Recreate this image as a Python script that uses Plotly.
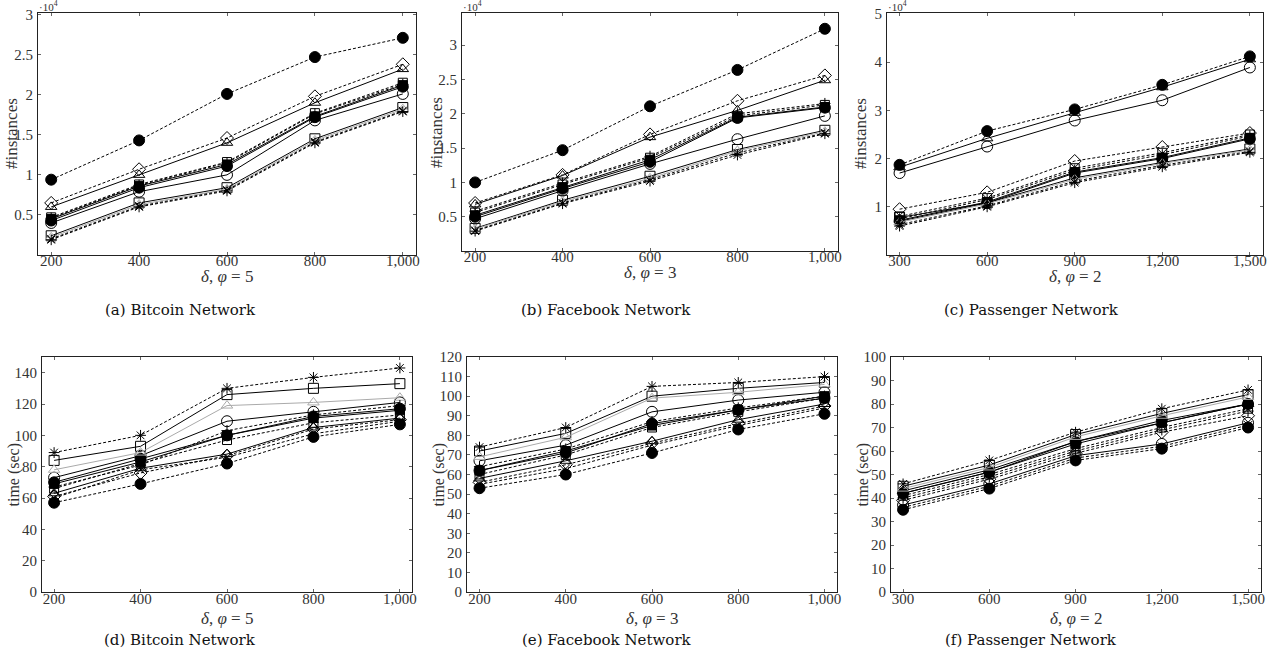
import plotly.graph_objects as go

# ---------------- data ----------------
x_bf = [200, 400, 600, 800, 1000]
x_pa = [300, 600, 900, 1200, 1500]
x_bf_text = ["200", "400", "600", "800", "1,000"]
x_pa_text = ["300", "600", "900", "1,200", "1,500"]

# series order (markers/styles defined below)
series_names = ["S1", "S2", "S3", "S4", "S5", "S6", "S7", "S8", "S9", "S10", "S11", "S12"]

# (a) Bitcoin #instances
bitcoin_inst = [
    [9400, 14300, 20100, 24700, 27100],
    [6500, 10700, 14600, 19800, 23800],
    [6000, 10000, 14000, 19000, 23200],
    [4500, 8600, 11300, 17300, 21200],
    [4300, 8400, 11100, 17200, 21000],
    [4000, 7900, 10000, 16800, 20100],
    [4700, 8800, 11600, 17700, 21500],
    [2400, 6500, 8400, 14500, 18400],
    [2200, 6300, 8200, 14300, 18200],
    [1900, 6000, 8000, 14000, 17900],
    [2000, 6100, 8100, 14100, 18000],
    [4600, 8700, 11500, 17600, 21300],
]
# (b) Facebook #instances
facebook_inst = [
    [10000, 14700, 21100, 26400, 32400],
    [7000, 11100, 17000, 21900, 25600],
    [6800, 11000, 16600, 20500, 24900],
    [5200, 9300, 13300, 19500, 21000],
    [5000, 9100, 13000, 19400, 20900],
    [4700, 8800, 12700, 16300, 19700],
    [5600, 9700, 13600, 19700, 21300],
    [3300, 7400, 10900, 14800, 17600],
    [3200, 7200, 10600, 14600, 17400],
    [2900, 6900, 10200, 14000, 17100],
    [3000, 7000, 10400, 14300, 17200],
    [5800, 9900, 13800, 20000, 21500],
]
# (c) Passenger #instances
passenger_inst = [
    [18700, 25700, 30200, 35300, 41200],
    [9500, 13000, 19500, 22400, 25300],
    [18200, 24200, 29500, 34800, 40600],
    [7200, 11000, 17200, 20200, 24300],
    [7000, 10800, 17000, 20000, 24100],
    [17000, 22500, 27900, 32100, 38900],
    [8000, 11800, 18000, 21200, 25000],
    [7800, 10800, 16000, 19200, 22000],
    [6800, 10600, 15700, 19000, 21800],
    [6000, 10000, 15000, 18300, 21300],
    [6300, 10200, 15300, 18600, 21500],
    [7500, 11500, 17600, 20800, 24700],
]
# (d) Bitcoin time (sec)
bitcoin_time = [
    [57, 69, 82, 99, 107],
    [61, 76, 87, 104, 110],
    [63, 79, 88, 105, 111],
    [69, 83, 100, 111, 116],
    [70, 85, 100, 112, 117],
    [73, 87, 109, 115, 121],
    [66, 82, 97, 108, 113],
    [84, 93, 126, 130, 133],
    [78, 89, 119, 121, 124],
    [89, 100, 130, 137, 143],
    [60, 78, 86, 101, 109],
    [67, 81, 103, 113, 119],
]
# (e) Facebook time (sec)
facebook_time = [
    [53, 60, 71, 83, 91],
    [56, 65, 76, 86, 95],
    [58, 67, 77, 88, 96],
    [62, 72, 85, 93, 100],
    [62, 71, 86, 93, 99],
    [67, 75, 92, 98, 102],
    [60, 70, 84, 92, 99],
    [72, 81, 100, 104, 107],
    [69, 79, 99, 102, 106],
    [74, 84, 105, 107, 110],
    [55, 63, 75, 85, 94],
    [64, 73, 87, 94, 100],
]
# (f) Passenger time (sec)
passenger_time = [
    [35, 44, 56, 61, 70],
    [39, 48, 59, 68, 75],
    [43, 52, 64, 72, 80],
    [42, 51, 63, 72, 80],
    [42, 51, 64, 73, 80],
    [37, 46, 58, 63, 72],
    [41, 50, 61, 70, 78],
    [45, 54, 67, 76, 84],
    [44, 53, 66, 75, 83],
    [46, 56, 68, 78, 86],
    [36, 45, 57, 62, 71],
    [40, 49, 60, 69, 77],
]

captions = ["(a) Bitcoin Network", "(b) Facebook Network", "(c) Passenger Network",
            "(d) Bitcoin Network", "(e) Facebook Network", "(f) Passenger Network"]
xlabels = ["<i>δ</i>, <i>φ</i> = 5", "<i>δ</i>, <i>φ</i> = 3", "<i>δ</i>, <i>φ</i> = 2"]

# ---------------- styles ----------------
DASH = "3px,2px"
styles = [
    dict(symbol="circle", dash=DASH, color="black", size=11),
    dict(symbol="diamond-open", dash=DASH, color="black", size=10),
    dict(symbol="triangle-up-open", dash="solid", color="black", size=10),
    dict(symbol="square", dash="solid", color="black", size=9),
    dict(symbol="circle", dash="solid", color="black", size=11),
    dict(symbol="circle-open", dash="solid", color="black", size=11),
    dict(symbol="square-open", dash=DASH, color="black", size=9),
    dict(symbol="square-open", dash="solid", color="black", size=10),
    dict(symbol="triangle-up-open", dash="solid", color="#aaaaaa", size=10),
    dict(symbol="asterisk-open", dash=DASH, color="black", size=9),
    dict(symbol="x-thin-open", dash=DASH, color="black", size=8),
    dict(symbol="cross-thin-open", dash=DASH, color="black", size=8),
]

W, H = 1279, 668
def fx(px): return px / W
def fy(py): return 1 - py / H

panels = [
    dict(xd=(38, 416), yd=(13, 255), x=x_bf, xt=x_bf_text, xr=[170, 1030], data=bitcoin_inst, scale=1e4,
         yr=[0, 3.02], yv=[0.5, 1, 1.5, 2, 2.5, 3], ytxt=["0.5", "1", "1.5", "2", "2.5", "3"], ytitle="#instances"),
    dict(xd=(462, 838), yd=(13, 251), x=x_bf, xt=x_bf_text, xr=[170, 1030], data=facebook_inst, scale=1e4,
         yr=[0, 3.47], yv=[0.5, 1, 1.5, 2, 2.5, 3], ytxt=["0.5", "1", "1.5", "2", "2.5", "3"], ytitle="#instances"),
    dict(xd=(887, 1263), yd=(13, 255), x=x_pa, xt=x_pa_text, xr=[257, 1545], data=passenger_inst, scale=1e4,
         yr=[0, 5.02], yv=[1, 2, 3, 4, 5], ytxt=["1", "2", "3", "4", "5"], ytitle="#instances"),
    dict(xd=(42, 412), yd=(357, 592), x=x_bf, xt=x_bf_text, xr=[172, 1028], data=bitcoin_time, scale=1,
         yr=[0, 150], yv=list(range(0, 141, 20)), ytxt=[str(v) for v in range(0, 141, 20)], ytitle="time (sec)"),
    dict(xd=(467, 837), yd=(357, 592), x=x_bf, xt=x_bf_text, xr=[171, 1029], data=facebook_time, scale=1,
         yr=[0, 120], yv=list(range(0, 121, 10)), ytxt=[str(v) for v in range(0, 121, 10)], ytitle="time (sec)"),
    dict(xd=(891, 1261), yd=(357, 592), x=x_pa, xt=x_pa_text, xr=[258, 1545], data=passenger_time, scale=1,
         yr=[0, 100], yv=list(range(0, 101, 10)), ytxt=[str(v) for v in range(0, 101, 10)], ytitle="time (sec)"),
]
caption_cx = [180, 606, 1031, 180, 607, 1031]

FONT = "Liberation Serif"
fig = go.Figure()
layout = dict(width=W, height=H, margin=dict(l=0, r=0, t=0, b=0, autoexpand=False),
              paper_bgcolor="white", plot_bgcolor="white", showlegend=False,
              font=dict(family=FONT, size=14, color="#333"))
annotations = []

for i, p in enumerate(panels):
    n = i + 1
    xa = "x" if n == 1 else f"x{n}"
    ya = "y" if n == 1 else f"y{n}"
    for s, vals in enumerate(p["data"]):
        st = styles[s]
        fig.add_trace(go.Scatter(
            x=p["x"], y=[v / p["scale"] for v in vals], xaxis=xa, yaxis=ya,
            mode="lines+markers", name=series_names[s],
            line=dict(color=st["color"], width=1, dash=st["dash"]),
            marker=dict(symbol=st["symbol"], size=st["size"], color=st["color"],
                        line=dict(color=st["color"], width=1)),
        ))
    axcommon = dict(showgrid=False, zeroline=False, showline=True, linecolor="#222", linewidth=1,
                    mirror="ticks", ticks="inside", ticklen=3, tickcolor="#666", automargin=False,
                    ticklabeloverflow="allow",
                    tickfont=dict(family=FONT, size=15, color="#333"))
    layout["xaxis" if n == 1 else f"xaxis{n}"] = dict(
        domain=[fx(p["xd"][0]), fx(p["xd"][1])], range=p["xr"], anchor=ya,
        tickmode="array", tickvals=p["x"], ticktext=p["xt"],
        ticklabelstandoff=-8 if i < 3 else -7, **axcommon)
    layout["yaxis" if n == 1 else f"yaxis{n}"] = dict(
        domain=[fy(p["yd"][1]), fy(p["yd"][0])], range=p["yr"], anchor=xa,
        tickmode="array", tickvals=p["yv"], ticktext=p["ytxt"], ticklabelstandoff=1, **axcommon)

    cx = (p["xd"][0] + p["xd"][1]) / 2
    # x axis label
    annotations.append(dict(text=xlabels[i % 3], x=fx(cx), y=fy(p["yd"][1] + 21 if i < 3 else p["yd"][1] + 26),
                            xref="paper", yref="paper", showarrow=False, xanchor="center", yanchor="middle",
                            font=dict(family=FONT, size=17, color="#333")))
    # y axis label
    annotations.append(dict(text=p["ytitle"], x=fx(p["xd"][0] - (26 if i < 3 else 29)),
                            y=fy((p["yd"][0] + p["yd"][1]) / 2),
                            xref="paper", yref="paper", showarrow=False, textangle=-90,
                            xanchor="center", yanchor="middle",
                            font=dict(family=FONT, size=17 if i < 3 else 16, color="#333")))
    # caption
    annotations.append(dict(text=captions[i], x=fx(caption_cx[i]), y=fy(310 if i < 3 else 640),
                            xref="paper", yref="paper", showarrow=False, xanchor="center", yanchor="middle",
                            font=dict(family="DejaVu Serif", size=15, color="#111")))
    if i < 3:
        annotations.append(dict(text="·10<sup>4</sup>", x=fx(p["xd"][0] - 1), y=fy(p["yd"][0] + 1),
                                xref="paper", yref="paper", showarrow=False, xanchor="left", yanchor="bottom",
                                yshift=-1, font=dict(family=FONT, size=11, color="#333")))

layout["annotations"] = annotations
fig.update_layout(**layout)
# remove the browser's default 8px page margin so the figure fills the window exactly
fig.write_html("out.html", config={"displayModeBar": False},
               post_script="document.body.style.margin='0';document.body.style.overflow='hidden';")
